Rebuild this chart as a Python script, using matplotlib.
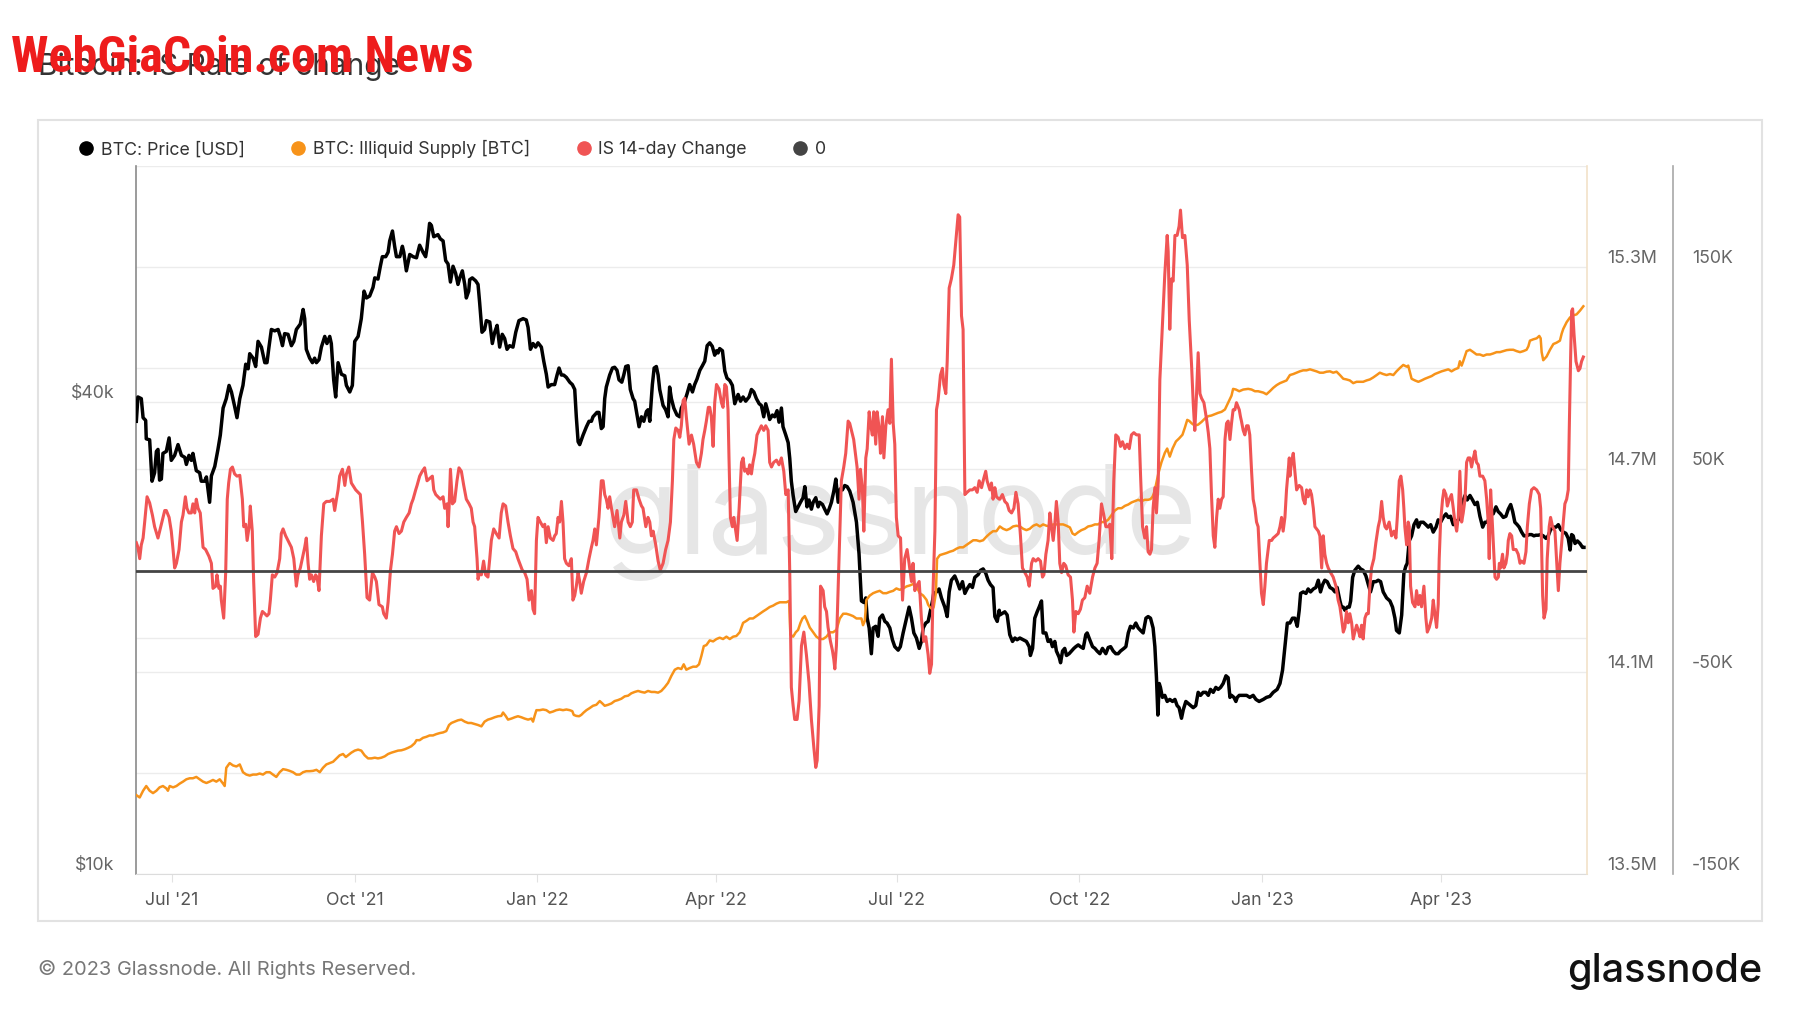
import numpy as np
import pandas as pd
import matplotlib
matplotlib.use("Agg")
import matplotlib.pyplot as plt
import matplotlib.dates as mdates
from matplotlib.lines import Line2D
from matplotlib.patches import Rectangle
from matplotlib.ticker import FixedLocator, FixedFormatter, NullLocator
from matplotlib.transforms import blended_transform_factory

plt.rcParams['font.family'] = ['Inter', 'DejaVu Sans']

# day offsets are counted from 2021-07-01
start = pd.Timestamp('2021-07-01')

# BTC price, thousands of USD
price_day = [
    -17.9, -17.1, -15.4, -14.5, -13.2, -12.9, -11.2, -10.0, -8.7, -7.8, -7.0, -6.2, -5.3, -4.5, -2.8, -1.4, -0.3,
    1.4, 3.1, 4.8, 6.5, 7.3, 8.6, 9.8, 10.6, 12.3, 14.0, 14.8, 16.5, 17.4, 19.0, 19.9, 21.6, 23.2, 24.4, 25.8,
    27.4, 28.8, 30.0, 31.6, 32.8, 34.2, 35.8, 37.2, 38.4, 39.2, 40.9, 42.2, 43.4, 45.1, 46.8, 47.9, 48.9, 50.1,
    51.8, 53.5, 54.6, 55.7, 56.8, 58.5, 60.2, 61.4, 62.7, 64.7, 66.1, 66.9, 67.7, 69.4, 70.8, 71.9, 72.8, 74.1,
    75.3, 77.0, 78.1, 79.5, 80.3, 81.5, 82.5, 83.7, 85.4, 87.1, 87.9, 89.6, 90.9, 92.1, 93.8, 95.4, 96.8, 98.0,
    99.6, 101.3, 102.2, 103.8, 105.0, 106.0, 107.7, 108.9, 109.7, 111.1, 112.2, 113.1, 114.8, 116.1, 116.8,
    118.1, 119.8, 121.5, 123.2,
    124.8, 126.5, 127.8, 128.5, 129.8, 130.7, 131.9, 134.0, 135.2, 136.6, 137.9, 139.1, 140.3, 141.6, 142.9,
    144.1, 145.0, 146.3, 147.5, 148.3, 149.5, 150.0, 151.3, 153.0, 154.2, 155.0, 156.2, 157.5, 158.4, 160.1,
    161.4, 162.6, 163.8, 165.1, 166.4, 167.6, 168.8, 170.1, 171.8, 173.2, 174.8, 176.9, 178.5, 179.4, 180.6,
    181.9, 183.2, 184.4, 186.1, 187.3, 188.6, 189.5, 191.1, 192.8, 194.0, 195.0, 196.2, 197.3, 198.7, 200.4,
    201.7, 202.9, 203.7, 204.6, 205.4, 207.1, 208.8, 210.1, 211.3, 212.1, 214.1, 215.1, 216.3, 217.2, 218.0,
    218.8, 220.5, 221.9, 223.0, 224.2, 225.2, 226.6, 227.6, 228.6, 229.8, 230.9, 232.3, 233.1, 234.3, 235.3,
    236.5, 237.7, 239.0, 239.8, 240.7, 242.0, 242.9, 244.0, 244.9, 245.7, 247.4, 248.7, 249.9, 250.7, 251.6,
    252.8, 254.4, 255.8, 256.6, 258.3, 259.5, 260.8, 262.2, 263.3, 264.5, 265.9, 267.2, 268.4, 269.6,
    270.9, 272.2, 273.4, 274.3, 275.1, 275.9, 277.3, 278.5, 279.6, 281.0, 282.3, 283.5, 285.2, 286.4, 287.7,
    289.0, 290.7, 291.9, 293.1, 294.4, 295.8, 296.9, 298.1, 299.1, 300.3, 301.1, 302.5, 303.6, 304.8, 305.8,
    307.0, 307.8, 309.2, 310.4, 311.2, 312.0, 312.9, 314.2, 315.4, 316.6, 317.9, 318.8, 319.9, 320.9, 322.1,
    323.0, 324.3, 325.5, 326.3, 327.7, 328.8, 330.0, 331.0, 332.2, 333.4, 334.4, 335.6, 336.7, 337.7, 338.9,
    340.1, 341.4, 343.1, 344.8, 346.1, 347.3, 348.5, 349.5, 350.2, 351.2, 352.3, 353.2, 354.5, 355.7, 356.5,
    357.9, 359.1, 360.2, 361.6, 362.9, 364.1, 365.8, 366.9, 368.3, 370.0, 371.3, 372.5, 373.7, 375.0, 376.4,
    377.5, 378.4, 379.7, 380.9, 382.1, 383.1, 383.7, 385.1, 386.4, 387.6, 389.3, 390.5, 391.5, 392.6, 394.3,
    395.5, 396.8, 398.2, 399.4, 400.5, 401.9, 403.2, 404.4, 406.1, 407.3, 408.6, 409.9, 411.1, 412.3, 413.6,
    414.5, 415.7, 416.7,
    417.0, 419.5, 420.7, 422.0, 423.4, 424.6, 425.7, 427.1, 428.8, 430.4, 431.8, 432.4, 433.5, 434.6, 435.8,
    436.8, 438.0, 438.8, 440.2, 441.3, 442.5, 443.5, 444.7, 445.5, 446.9, 447.6, 448.6, 449.7, 450.6, 451.9,
    453.1, 454.3, 455.3, 456.5, 457.6, 459.0, 460.3, 461.0, 462.3, 463.7, 464.9, 466.0, 467.4, 468.7, 470.4,
    471.6, 472.8, 474.1, 475.4, 476.6, 477.8, 479.5, 480.5, 481.7, 482.8, 484.2, 485.5, 486.7, 487.9, 489.2,
    490.6, 491.7, 492.9, 494.2, 495.1, 495.9, 496.6, 497.3, 497.9, 498.9, 500.1, 501.3, 502.6, 504.0, 505.2,
    506.3, 507.3, 508.5, 509.4, 510.7, 511.9, 513.1, 514.4, 515.7, 516.9, 518.1, 519.4, 520.8, 522.0, 523.1,
    524.5, 525.8, 527.0, 528.2, 529.5, 530.9, 532.0, 532.9, 533.7, 534.9, 535.9, 536.6, 537.6, 539.6, 541.3,
    542.9, 544.6, 546.0, 547.6, 549.7, 551.3, 553.0, 554.7, 556.7, 558.1, 559.4, 560.6, 561.8,
    563.1, 564.4, 565.6, 566.8, 567.8, 568.5, 569.8, 571.2, 572.3, 573.5, 574.9, 576.2, 577.4, 578.5, 579.6,
    580.7, 581.9, 583.3, 584.6, 585.8, 586.9, 588.3, 589.1, 590.0, 590.8, 592.0, 593.0, 593.7, 594.7, 595.8,
    597.5, 598.7, 600.0, 601.4, 602.6, 603.7, 605.1, 606.4, 607.6, 608.8, 610.1, 611.8, 613.5, 614.8, 616.0,
    616.8, 618.2, 619.4, 620.5, 621.5, 622.2, 623.2, 624.4, 625.6, 626.9, 627.8, 628.9, 630.3, 631.6, 632.8,
    634.0, 635.3, 636.7, 637.8, 639.0, 640.3, 641.7, 642.9, 644.0, 645.4, 646.7, 647.9, 649.1, 650.1, 651.3,
    652.4, 653.8, 655.1, 656.3, 657.5, 658.8, 660.2, 661.3, 662.5, 663.9, 664.7, 665.5, 666.9, 668.0, 669.2,
    670.6, 671.9, 673.1, 674.3, 675.3, 676.4, 677.6, 678.6, 679.8, 681.0, 682.3, 683.7, 684.8, 686.0, 687.0,
    688.2, 689.4, 690.7, 692.1, 693.2, 694.4, 695.8, 697.1, 698.3, 699.5, 700.8, 702.1, 703.3, 704.2, 705.0,
    705.8, 706.7, 707.9, 709.2, 710.5, 711.2,
]
price_k = [
    37.8, 40.6, 40.4, 38.2, 37.9, 35.9, 35.8, 31.7, 32.5, 34.6, 34.8, 31.8, 31.9, 34.4, 34.6, 36.0, 33.7,
    34.2, 35.3, 34.2, 34.0, 33.3, 34.2, 33.7, 34.4, 32.7, 32.5, 31.7, 31.7, 32.1, 29.8, 32.2, 33.1, 34.8, 36.3, 39.3,
    40.4, 42.0, 41.2, 39.5, 38.2, 40.4, 42.0, 44.7, 44.1, 46.1, 45.5, 44.4, 47.8, 47.0, 44.9, 44.9, 47.0, 49.5,
    49.3, 49.5, 48.5, 47.2, 48.9, 48.8, 47.2, 47.8, 49.5, 50.3, 52.5, 51.1, 46.7, 45.5, 44.9, 45.5, 44.9, 45.3,
    47.0, 48.5, 47.5, 48.5, 47.5, 42.7, 40.6, 44.9, 43.4, 43.2, 42.0, 41.2, 42.0, 47.8, 48.5, 51.1, 55.4, 54.3,
    54.6, 56.0, 57.6, 57.4, 59.6, 61.3, 61.3, 62.1, 64.2, 66.1, 63.2, 61.3, 61.3, 63.2, 62.1,
    58.8, 61.7, 61.3, 61.1,
    63.4, 62.1, 61.3, 62.9, 67.6, 67.2, 65.0, 65.4, 64.6, 64.2, 60.6, 60.0, 56.9, 59.6, 58.4,
    56.5, 57.6, 58.8, 56.5, 54.3, 55.4, 57.3, 57.6, 57.1, 56.5, 53.6, 49.1, 49.5, 50.8, 50.6,
    47.5, 49.1, 50.1, 47.0, 48.8, 48.2, 46.7, 47.2, 47.0, 49.1, 50.8, 51.1, 50.9, 49.8, 46.7,
    47.5, 47.0, 47.6, 47.0, 45.1, 43.4, 41.8, 42.1, 42.1, 43.3, 44.2, 43.3, 43.3, 43.0, 42.4,
    42.1, 41.5, 38.3, 35.6, 35.3, 36.3, 37.2, 37.8, 37.8, 38.3, 38.8, 38.8, 37.0, 37.2, 40.4,
    41.8, 43.3, 44.2, 44.3, 43.9, 42.7, 42.4, 43.3, 44.4, 44.5, 41.5, 40.4, 40.1, 38.5, 37.2,
    38.3, 37.8, 38.9, 39.1, 37.8, 42.1, 44.2, 44.4, 43.3, 41.5, 39.6, 39.1, 38.3, 41.8, 40.4,
    39.3, 38.5, 38.3, 39.3, 40.1, 41.0, 42.1, 41.2, 42.1, 42.8, 43.9, 44.5, 45.1, 47.2,
    47.6, 47.1, 45.9, 46.5, 46.2, 46.8, 46.5, 43.8, 42.9, 42.6, 42.0, 39.8, 40.9, 40.1, 40.6,
    40.1, 40.6, 41.5, 41.2, 40.4, 39.8, 39.6, 38.3, 39.8, 38.8, 38.0, 38.5, 38.3, 39.0, 37.7,
    39.3, 37.2, 36.3, 35.5, 33.9, 31.7, 30.4, 29.0, 29.4, 29.8, 30.2, 31.2, 29.4, 30.0, 29.2,
    29.8, 30.2, 29.4, 29.8, 29.6, 29.2, 28.8, 29.2, 29.8, 30.8, 31.9, 29.8, 31.0, 30.9, 31.3,
    31.2, 30.8, 29.8, 28.1, 25.6, 22.3, 22.2, 22.5, 21.2, 20.6, 19.1, 20.6, 20.7, 20.1, 21.2,
    21.4, 21.0, 20.9, 20.6, 19.9, 19.5, 19.3, 19.5, 20.3, 21.2, 21.9, 21.2, 20.3, 20.0, 19.4,
    19.8, 20.6, 20.9, 21.0, 21.7, 22.3, 22.8, 22.9, 23.1, 22.5, 21.9, 21.3, 22.9, 23.7, 24.0,
    23.6, 23.1, 23.6, 22.8, 23.1, 23.4, 23.2, 23.9, 24.1, 24.4, 24.5, 24.2, 23.7, 23.4, 23.2,
    21.3, 21.0, 21.7,
    21.4, 21.6, 21.4, 20.2, 19.8, 20.0, 19.9, 20.0, 19.9, 19.8, 19.5, 19.0, 19.4, 21.2, 21.6,
    21.9, 22.3, 20.3, 20.3, 19.8, 19.9, 19.5, 19.8, 19.25, 18.9, 18.6, 19.25, 19.4, 19.0, 19.1,
    19.25, 19.4, 19.5, 19.6, 19.5, 19.4, 20.2, 20.3, 19.9, 19.5, 19.4, 19.25, 19.1, 19.4, 19.1,
    19.45, 19.5, 19.25, 19.1, 19.1, 19.25, 19.4, 19.5, 20.3, 20.7, 20.6, 20.9, 20.6, 20.45, 20.3,
    21.2, 21.3, 21.2, 20.6, 19.5, 17.8, 15.95, 17.5, 17.3, 16.8, 16.9, 16.6, 16.7, 16.6, 16.7,
    16.4, 16.3, 15.8, 16.2, 16.6, 16.5, 16.4, 16.3, 16.4, 17.05, 16.9, 17.05, 17.05, 16.9, 17.2,
    17.05, 17.3, 17.2, 17.3, 17.5, 17.9, 17.8, 16.8, 16.9, 16.8, 16.6, 16.8, 16.9, 16.9, 16.9,
    16.8, 16.9, 16.7, 16.6, 16.7, 16.8, 16.85, 17.05, 17.2, 17.5, 18.2, 19.5, 20.9,
    20.9, 21.2, 21.2, 20.7, 21.7, 22.8, 22.9, 22.8, 23.1, 22.9, 23.1, 23.2, 23.7, 22.9, 23.4,
    23.7, 23.6, 23.2, 23.1, 22.9, 23.2, 22.3, 21.9, 21.9, 21.7, 21.9, 21.9, 22.3, 23.9, 24.4,
    24.7, 24.5, 24.4, 24.0, 23.4, 22.9, 23.6, 23.6, 23.7, 23.6, 22.9, 22.5, 22.3, 21.9, 21.2,
    20.45, 20.3, 21.4, 24.2, 24.7, 24.9, 26.6, 27.0, 27.9, 28.3, 27.7, 28.1, 28.1, 27.9, 27.7,
    27.9, 27.3, 27.7, 28.3, 28.1, 28.5, 28.8, 28.5, 28.6, 27.9, 28.1, 28.3, 28.6, 29.8, 30.4,
    30.0, 30.4, 30.0, 29.6, 29.8, 28.6, 27.7, 28.1, 28.1, 28.6, 28.8, 28.8, 29.4, 29.0, 28.8,
    28.5, 28.6, 29.2, 29.6, 29.0, 28.1, 27.9, 27.7, 27.3, 27.0, 27.0, 27.1, 27.1, 27.0, 27.05,
    27.05, 27.1, 27.0, 26.8, 27.0, 27.5, 27.7, 27.7, 27.9, 27.5, 27.3, 27.2, 26.8, 25.9, 27.1,
    27.0, 26.4, 26.6, 26.4, 26.1, 26.1,
]

# BTC illiquid supply, millions of BTC
supply_day = [
    -17.9, -16.2, -14.5, -12.9, -11.2, -9.5, -7.8, -6.2, -4.5, -2.8, -2.0, -1.1, 0.6, 2.3, 3.9, 5.6, 7.3, 9.0,
    10.6, 12.3, 14.0, 15.7, 17.4, 19.0, 20.7, 22.4, 24.1, 25.8, 26.6, 27.4, 29.1, 30.8, 32.5, 34.2, 35.8, 37.5,
    39.2, 40.9, 42.6, 44.2, 45.9, 47.6, 49.3, 50.9, 52.6, 54.3, 56.0, 57.7, 59.3, 61.0, 62.7, 64.4, 66.1, 67.7,
    69.4, 71.1, 72.8, 74.5, 76.1, 77.8, 79.5, 81.2, 82.9, 84.5, 86.2, 87.6, 88.7, 90.4, 92.1, 93.8, 95.4, 97.1,
    98.8, 100.5, 102.2, 103.8, 105.5, 107.2, 108.9, 110.6, 112.2, 113.9, 115.6, 117.3, 118.9, 120.6, 122.3, 123.2,
    124.8, 126.5, 128.2, 129.8, 131.5, 133.2, 134.9, 136.6, 138.2, 139.6, 140.8, 142.4, 144.1, 145.8, 147.5,
    149.2, 150.8, 152.5, 154.2, 155.9, 157.5, 159.2, 160.9, 162.6, 164.3, 165.9, 166.8, 168.1, 169.3, 171.0,
    172.7, 174.3, 176.0, 177.7, 179.4, 181.1, 181.9, 182.7, 183.6, 185.3, 186.9, 188.6, 190.3, 192.0, 193.6,
    195.3, 197.0, 198.7, 200.4, 201.7, 202.4, 203.7, 205.1, 206.2, 207.4, 208.8, 210.4, 212.1, 213.8, 215.5,
    216.8, 218.0, 219.7, 221.4, 223.0, 224.7, 226.4, 228.1, 229.8, 231.4, 233.1, 234.8, 236.5, 238.1, 239.8,
    241.5, 243.2, 244.9, 246.5, 248.2, 249.9, 251.6, 253.3, 254.9, 256.6, 257.8, 259.1, 260.8, 262.5, 264.2,
    265.5, 266.7, 267.9, 269.2,
    270.9, 272.6, 274.3, 275.9, 277.6, 279.3, 281.0, 282.7, 284.3, 286.0, 287.7, 289.4, 291.0, 292.7, 294.4,
    296.1, 297.8, 299.4, 301.1, 302.8, 304.5, 306.2, 307.8, 309.5, 310.9, 311.5, 312.9, 314.2, 315.4, 316.6,
    317.6, 318.8, 319.9, 321.3, 323.0, 324.6, 326.3, 328.0, 329.7, 331.4, 333.0, 334.7, 336.4, 338.1, 339.7,
    341.4, 343.1, 344.8, 346.1, 347.3, 348.1, 349.0, 349.8, 351.5, 353.2, 354.9, 356.5, 358.2, 359.9, 361.6,
    363.3, 364.9, 366.6, 368.3, 370.0, 371.7, 373.3, 375.0, 376.7, 378.4, 380.1, 380.9, 381.7, 383.1, 383.7,
    384.8, 385.4, 386.8, 388.5, 390.1, 391.8, 393.5, 395.2, 396.8, 398.5, 400.2, 401.9, 403.6, 405.2, 406.9,
    408.6, 410.3, 412.0, 413.6, 415.3,
    417.0, 418.7, 420.4, 422.0, 423.7, 425.4, 427.1, 428.8, 430.4, 432.1, 433.8, 435.5, 437.2, 438.8, 440.5,
    442.2, 443.9, 445.5, 447.2, 448.9, 450.6, 452.3, 453.6, 454.8, 456.5, 458.1, 459.8, 461.5, 463.2, 464.9,
    466.5, 468.2, 469.9, 471.6, 473.3, 474.9, 476.6, 478.3, 480.0, 481.7, 483.3, 485.0, 486.7, 488.4, 490.0,
    491.7, 492.9, 493.9, 494.6, 495.6, 496.8, 498.4, 500.1, 501.3, 502.6, 504.0, 505.7, 507.3, 509.0, 510.2,
    511.4, 512.4, 513.6, 515.2, 516.9, 518.6, 520.3, 522.0, 523.6, 525.3, 527.0, 528.7, 530.4, 532.0, 533.7,
    534.5, 535.9, 537.6, 539.6, 542.1, 543.8, 545.5, 547.1, 549.7, 551.3, 553.0, 554.7, 556.4, 558.1, 559.7,
    561.4,
    563.1, 564.8, 566.5, 568.1, 569.8, 571.5, 573.2, 574.9, 576.5, 578.2, 579.9, 581.6, 583.3, 584.9, 586.6,
    588.3, 590.0, 591.6, 593.3, 595.0, 596.7, 598.4, 600.0, 601.7, 603.4, 605.1, 606.8, 608.4, 610.1, 611.8,
    613.5, 615.2, 616.8, 618.5, 620.2, 621.9, 622.7, 623.6, 624.4, 626.1, 627.8, 629.4, 631.1, 632.8, 634.5,
    636.1, 637.8, 639.5, 641.2, 642.9, 644.5, 646.2, 647.9, 648.7, 649.6, 650.4, 652.1, 653.8, 655.5, 657.1,
    658.8, 660.5, 662.2, 663.9, 665.5, 667.2, 668.9, 670.6, 672.3, 673.9, 675.6, 677.3, 679.0, 680.7, 682.3,
    683.2, 684.0, 685.7, 687.4, 688.7, 689.4, 689.9, 690.7, 692.4, 694.1, 695.8, 697.4, 699.1, 700.0, 700.8,
    702.5, 704.2, 705.8, 707.5, 709.2, 710.9,
]
supply_m = [
    13.734, 13.727, 13.747, 13.761, 13.747, 13.740, 13.747, 13.757, 13.761, 13.754, 13.747, 13.761, 13.757,
    13.761, 13.768, 13.774, 13.781, 13.784, 13.784, 13.788, 13.781, 13.774, 13.770, 13.774, 13.779, 13.774,
    13.781, 13.768, 13.761, 13.815, 13.829, 13.822, 13.819, 13.825, 13.802, 13.795, 13.792, 13.795, 13.795,
    13.798, 13.795, 13.802, 13.802, 13.795, 13.788, 13.802, 13.811, 13.809, 13.806, 13.802, 13.795, 13.795,
    13.802, 13.805, 13.805, 13.806, 13.809, 13.802, 13.815, 13.825, 13.829, 13.833, 13.843, 13.852, 13.856,
    13.847, 13.852, 13.860, 13.866, 13.869, 13.866, 13.852, 13.843, 13.843, 13.845, 13.843, 13.845, 13.849,
    13.856, 13.860, 13.863, 13.866, 13.867, 13.870, 13.874, 13.879, 13.888, 13.897,
    13.897, 13.904, 13.907, 13.911, 13.911, 13.915, 13.918, 13.920, 13.924, 13.942, 13.948, 13.952, 13.956,
    13.958, 13.952, 13.948, 13.948, 13.945, 13.942, 13.938, 13.952, 13.958, 13.961, 13.965, 13.968, 13.969,
    13.979, 13.969, 13.958, 13.961, 13.965, 13.968, 13.965, 13.961, 13.958, 13.961, 13.952, 13.969, 13.986,
    13.986, 13.988, 13.986, 13.979, 13.982, 13.986, 13.988, 13.986, 13.988, 13.986, 13.983, 13.972, 13.969,
    13.968, 13.972, 13.979, 13.986, 13.992, 13.999, 14.002, 14.013, 14.006, 13.999, 14.002, 14.006, 14.013,
    14.016, 14.020, 14.027, 14.029, 14.036, 14.040, 14.043, 14.040, 14.038, 14.043, 14.040, 14.040, 14.038,
    14.043, 14.054, 14.067, 14.088, 14.106, 14.111, 14.108, 14.122, 14.106, 14.111, 14.115, 14.115, 14.122,
    14.147, 14.176, 14.179,
    14.193, 14.190, 14.197, 14.201, 14.197, 14.204, 14.197, 14.204, 14.206, 14.217, 14.245, 14.251, 14.258,
    14.258, 14.265, 14.272, 14.279, 14.285, 14.292, 14.296, 14.302, 14.306, 14.306, 14.306, 14.310, 14.210,
    14.204, 14.217, 14.224, 14.245, 14.258, 14.265, 14.251, 14.231, 14.217, 14.204, 14.197, 14.197, 14.204,
    14.217, 14.217, 14.224, 14.258, 14.272, 14.272, 14.269, 14.265, 14.258, 14.258, 14.258, 14.238, 14.251,
    14.313, 14.326, 14.333, 14.337, 14.340, 14.333, 14.333, 14.337, 14.340, 14.347, 14.343, 14.347, 14.353,
    14.356, 14.360, 14.353, 14.333, 14.326, 14.313, 14.299, 14.292, 14.285, 14.292, 14.333, 14.435, 14.446,
    14.449, 14.452, 14.456, 14.459, 14.465, 14.469, 14.469, 14.476, 14.483, 14.490, 14.490, 14.487, 14.490,
    14.501, 14.510, 14.517, 14.517,
    14.531, 14.524, 14.520, 14.524, 14.531, 14.533, 14.531, 14.524, 14.520, 14.524, 14.533, 14.537, 14.531,
    14.537, 14.533, 14.531, 14.537, 14.537, 14.537, 14.537, 14.533, 14.528, 14.510, 14.506, 14.514, 14.520,
    14.524, 14.531, 14.533, 14.537, 14.537, 14.544, 14.544, 14.551, 14.565, 14.578, 14.585, 14.585, 14.592,
    14.596, 14.602, 14.606, 14.610, 14.606, 14.610, 14.610, 14.612, 14.619, 14.629, 14.653, 14.687, 14.721,
    14.749, 14.762, 14.738, 14.762, 14.783, 14.792, 14.803, 14.824, 14.847, 14.844, 14.837, 14.830, 14.833,
    14.841, 14.851, 14.858, 14.860, 14.864, 14.868, 14.871, 14.878, 14.898, 14.919, 14.939, 14.937, 14.932,
    14.937, 14.939, 14.937, 14.932, 14.932, 14.928, 14.923, 14.932, 14.942, 14.950, 14.956, 14.960, 14.964,
    14.980, 14.983, 14.987, 14.991, 14.994, 14.994, 14.997, 14.994, 14.991, 14.987, 14.987, 14.990, 14.991,
    14.987, 14.990, 14.980, 14.969, 14.967, 14.964, 14.956, 14.960, 14.960, 14.960, 14.964, 14.967, 14.973,
    14.980, 14.987, 14.983, 14.980, 14.983, 14.980, 14.991, 15.001, 15.010, 15.005, 15.008, 14.987, 14.969,
    14.964, 14.960, 14.964, 14.969, 14.973, 14.977, 14.983, 14.987, 14.991, 14.994, 14.997, 14.991, 14.997,
    15.001, 15.021, 15.008, 15.021, 15.051, 15.055, 15.048, 15.041, 15.041, 15.037, 15.041, 15.041, 15.044,
    15.048, 15.048, 15.051, 15.054, 15.055, 15.055, 15.051, 15.048, 15.051, 15.055, 15.065, 15.082, 15.086,
    15.089, 15.096, 15.089, 15.048, 15.024, 15.035, 15.055, 15.072, 15.076, 15.082, 15.103, 15.117, 15.137,
    15.151, 15.157, 15.160, 15.171, 15.184,
]

# IS 14-day change, thousands of BTC
change_day = [
    -17.9, -17.1, -16.2, -15.4, -14.5, -13.7, -12.5, -11.2, -9.8, -8.7, -7.0, -5.3, -3.6, -2.8, -1.4, -0.3,
    0.6, 1.4, 2.3, 3.6, 4.8, 5.6, 6.8, 7.6, 8.6, 9.8, 10.6, 11.5, 12.3, 13.2, 14.3, 15.7, 17.0, 18.7, 19.9,
    20.7, 22.1, 22.7, 23.7, 24.4, 24.9, 26.1, 27.1, 27.9, 28.6, 29.5, 30.5, 31.6, 32.8, 34.2, 35.5, 36.2, 37.2,
    37.9, 38.9, 39.5, 40.5, 41.2, 42.2, 43.4, 44.6, 45.6, 46.8, 47.9, 48.9, 49.6, 50.6, 51.8, 53.0, 54.3, 55.1,
    56.0, 57.3, 59.0, 60.2, 61.4, 62.7, 63.5, 64.7, 65.7, 66.9, 67.7, 68.6, 69.4, 70.3, 71.4, 72.4, 73.1, 74.1,
    75.3, 76.5, 77.8, 79.5, 81.2, 82.0, 82.9, 83.7, 84.5, 85.9, 87.1, 87.9, 89.1, 90.4, 92.6, 93.8, 94.9, 96.0,
    97.1, 98.3, 99.6, 101.0, 102.2, 103.0, 104.3, 106.0, 106.7, 108.0, 108.9, 110.1, 111.1, 112.2, 113.1,
    114.4, 115.6, 116.8, 118.1, 119.5, 120.6, 121.5, 122.8, 123.5, 124.5,
    124.8, 126.1, 127.3, 128.5, 129.8, 131.2, 131.9, 132.9, 134.0, 135.2, 136.6, 137.4, 138.6, 139.1, 139.6,
    140.3, 141.3, 142.4, 143.6, 144.6, 145.8, 147.0, 148.3, 149.7, 150.8, 151.7, 152.5, 153.7, 154.2, 155.0,
    155.9, 157.0, 158.0, 159.2, 160.1, 160.9, 162.1, 163.4, 164.8, 165.9, 166.8, 168.1, 169.3, 170.5, 171.8,
    173.2, 174.3, 175.2, 176.5, 177.7, 178.9, 179.9, 181.1, 181.9, 182.7, 183.6, 184.4, 185.6, 186.9, 187.8,
    188.6, 189.5, 190.6, 192.0, 192.8, 193.6, 194.5, 195.3, 196.2, 197.0, 197.8, 198.7, 200.0, 201.2, 202.0,
    202.9, 203.7, 204.6, 205.4, 206.2, 207.4, 208.8, 210.1, 211.3, 212.1, 213.0, 213.8, 215.1, 216.3, 217.2,
    218.0, 218.8, 219.7, 220.5, 221.4, 222.2, 223.0, 224.2, 225.6, 226.4, 227.6, 228.6, 229.8, 230.9, 231.9,
    232.6, 234.0, 235.3, 236.5, 237.3, 238.7, 239.8, 240.7, 241.5, 242.4, 243.7, 244.9, 246.0, 247.4, 248.7,
    249.9, 251.1, 252.1, 252.8, 253.8, 255.0, 255.8, 256.6, 257.5, 258.3, 259.1, 260.5, 261.7, 262.8, 264.2,
    265.5, 266.7, 267.5, 268.4, 269.2, 270.2,
    270.9, 271.7, 272.6, 273.4, 274.3, 275.6, 276.8, 277.6, 278.5, 279.3, 280.1, 280.6, 281.3, 282.3, 283.0,
    284.0, 284.7, 285.7, 286.9, 287.7, 288.5, 289.4, 290.2, 291.0, 291.9, 292.7, 293.6, 294.7, 295.8, 296.9,
    298.1, 299.1, 300.3, 301.1, 302.0, 303.1, 304.5, 305.8, 307.0, 308.2, 309.2, 310.4, 311.2, 312.0, 312.9,
    313.7, 314.9, 315.9, 317.1, 318.3, 319.6, 320.9, 322.1, 323.3, 324.3, 325.0, 326.0, 326.7, 328.0, 328.8,
    329.7, 330.5, 331.7, 332.7, 333.4, 333.9, 334.7, 335.6, 336.4, 337.2, 338.4, 339.4, 340.6, 341.4, 342.3,
    343.4, 344.5, 345.1, 346.1, 346.8, 347.8, 348.5, 349.5, 350.2, 351.2, 351.8, 352.8, 353.5, 354.5, 355.2,
    356.2, 356.9, 357.9, 358.6, 359.6, 360.7, 361.6, 362.4, 363.3, 364.1, 364.9, 365.8, 367.0, 368.0, 369.1,
    370.3, 371.3, 372.5, 373.3, 374.2, 375.0, 376.4, 377.5, 378.7, 379.7, 380.9, 381.7, 382.6, 383.4, 384.3,
    385.1, 385.9, 387.1, 388.1, 388.8, 389.8, 390.5, 391.5, 392.6, 393.8, 394.8, 396.0, 396.8, 397.7, 398.5,
    399.4, 400.5, 401.9, 403.2, 404.4, 405.6, 406.6, 407.8, 408.9, 409.9, 410.6, 412.0, 412.8, 413.6, 414.5,
    415.3, 416.7,
    417.0, 418.3, 419.5, 420.7, 421.7, 422.9, 424.1, 425.1, 426.2, 427.4, 428.4, 429.6, 430.8, 431.8, 433.0,
    433.8, 435.1, 436.3, 437.5, 438.5, 439.2, 440.2, 441.3, 442.2, 443.0, 443.9, 444.7, 445.5, 446.4, 447.2,
    448.1, 449.2, 450.2, 451.4, 452.6, 453.6, 454.3, 455.3, 456.5, 457.6, 458.6, 459.8, 461.0, 462.3, 463.7,
    464.9, 466.0, 467.0, 468.2, 469.4, 470.4, 471.6, 472.4, 473.4, 474.4, 475.4, 476.6, 477.8, 478.8, 480.0,
    481.1, 482.2, 483.3, 484.5, 485.8, 487.2, 487.9, 488.9, 490.0, 490.9, 491.7, 492.6, 493.4, 494.2, 495.1,
    495.9, 496.8, 497.6, 498.9, 500.1, 501.3, 501.8, 502.6, 503.5, 504.3, 505.2, 506.3, 507.3, 508.0, 509.0,
    510.2, 511.4, 512.4, 513.6, 514.4, 515.2, 516.1, 516.9, 517.8, 518.6, 519.8, 521.1, 522.0, 522.8, 523.6,
    524.5, 525.3, 526.2, 527.0, 527.8, 528.7, 529.5, 530.4, 531.2, 532.0, 532.9, 533.7, 534.5, 535.4, 536.2,
    537.6, 538.2, 538.7, 539.6, 540.4, 541.3, 542.1, 542.9, 543.8, 544.6, 545.5, 546.3, 547.1, 548.0, 548.8,
    549.7, 550.5, 551.3, 552.7, 553.9, 554.7, 556.0, 557.2, 558.1, 558.9, 559.7, 560.6, 561.4, 562.8,
    563.1, 563.9, 564.8, 565.6, 566.5, 567.8, 569.0, 569.8, 570.7, 571.5, 572.3, 573.2, 574.0, 574.9, 575.7,
    577.4, 578.2, 579.1, 579.9, 580.7, 581.6, 582.4, 583.6, 584.9, 586.3, 587.4, 588.3, 589.1, 590.0, 590.8,
    591.6, 592.5, 593.3, 594.2, 595.0, 595.8, 596.7, 597.5, 598.4, 599.2, 600.0, 600.9, 601.7, 602.6, 603.4,
    604.2, 605.4, 606.4, 607.6, 608.4, 609.3, 610.1, 611.0, 611.8, 613.1, 614.3, 615.5, 616.5, 617.2, 618.2,
    619.0, 619.9, 620.5, 621.0, 621.9, 622.7, 623.2, 623.9, 624.9, 626.1, 626.9, 627.8, 628.6, 629.4, 630.6,
    631.6, 632.3, 633.3, 634.5, 635.3, 636.1, 637.0, 637.8, 638.3, 639.0, 640.0, 640.7, 641.7, 642.4, 643.4,
    644.5, 645.4, 646.2, 647.1, 647.9, 648.7, 649.6, 650.4, 651.3, 652.1, 652.9, 653.8, 654.6, 655.5, 656.3,
    657.1, 658.0, 658.8, 660.2, 661.3, 662.2, 663.0, 663.5, 664.2, 664.7, 665.5, 666.4, 667.2, 668.1, 668.6,
    669.2, 670.2, 670.9, 671.9, 672.6, 673.1, 673.9, 674.8, 675.6, 677.0, 678.1, 679.0, 679.8, 681.0, 682.0,
    682.7, 683.7, 684.8, 686.0, 687.4, 688.7, 689.4, 689.9, 690.4, 691.1, 692.1, 692.7, 693.7, 694.4, 695.4,
    696.6, 697.4, 698.3, 699.1, 700.0, 700.8, 701.6, 702.5, 703.3, 703.8, 704.5, 705.0, 705.5, 706.2, 707.2,
    708.4, 709.2, 710.0, 710.9,
]
change_k = [
    13.8, 11.5, 5.9, 12.7, 16.1, 24.0, 36.5, 33.5, 27.4, 21.7, 16.1, 22.9, 29.7, 29.7, 26.3, 19.5,
    10.4, 1.3, 3.6, 10.4, 24.0, 27.4, 36.5, 30.8, 28.5, 28.5, 33.0, 28.5, 35.3, 30.8, 28.5, 11.5, 10.4, 7.0, 3.6,
    -8.8, -7.7, -2.1, -8.8, -7.7, -14.6, -23.5, -1.0, 35.3, 43.3, 50.1, 51.2, 47.8, 46.7, 47.1, 35.3, 21.7, 22.9,
    14.9, 21.7, 31.9, 19.5, -5.4, -32.6, -31.5, -23.5, -20.2, -21.3, -22.4, -21.3, -14.6, -2.1, -3.2, -1.0, 5.9, 18.3,
    20.6, 17.2, 13.8, 11.5, 5.9, -7.7, -2.1, 1.3, 5.9, 11.5, 16.1, 3.6, -4.3, -2.1, -5.4, -2.1, -3.2, -9.9,
    17.2, 33.0, 34.2, 34.2, 35.3, 29.7, 35.3, 39.9, 46.7, 50.1, 42.1, 47.8, 51.2, 43.3, 39.9, 38.7, 37.6, 24.0,
    8.1, -13.4, -14.6, -1.0, -3.2, -5.4, -16.8, -17.9, -21.3, -23.5, -15.6, 0.2, 8.1, 19.5, 21.7,
    18.3, 19.5, 24.0, 26.3, 28.5, 33.0, 35.3, 39.9, 42.1, 45.7,
    46.7, 49.1, 50.8, 44.4, 45.5, 46.7, 39.9, 37.6, 36.5, 35.3, 36.5, 30.8, 33.0, 21.7, 30.8,
    50.1, 33.0, 34.2, 44.4, 50.8, 49.1, 42.1, 35.3, 33.0, 30.8, 24.0, 21.7, 5.9, -4.3, -1.0,
    -2.1, 4.7, -2.1, -3.2, 5.9, 14.9, 20.6, 18.3, 16.1, 28.5, 33.0, 32.0, 24.0, 17.2, 10.9,
    9.3, 5.9, 3.6, 0.2, -1.0, -4.3, -14.6, -9.9, -19.1, -21.3, 14.9, 26.3, 24.0, 21.7, 22.9,
    13.8, 21.7, 16.1, 14.9, 17.2, 18.3, 26.3, 24.0, 34.2, 24.0, 5.9, 3.6, 2.4, 5.9, -14.6,
    -12.3, -7.7, -1.0, -5.4, -11.2, -5.4, -1.0, 5.9, 11.5, 14.9, 20.6, 12.7, 26.3, 44.4, 44.4,
    37.6, 35.3, 30.8, 36.5, 30.8, 26.3, 21.7, 29.7, 16.1, 24.0, 27.4, 34.2, 24.0, 21.7, 24.0,
    39.9, 39.9, 35.3, 32.0, 30.8, 21.7, 26.3, 24.0, 17.2, 19.5, 12.7, 4.7, 0.2, 3.6, 10.4,
    14.9, 24.0, 44.4, 64.8, 70.5, 69.3, 65.9, 71.6, 84.1, 85.2, 76.1, 62.5, 67.0, 62.5, 53.5,
    51.2, 58.0, 64.8, 69.3, 73.9, 80.7,
    80.7, 76.1, 61.4, 83.0, 92.0, 89.8, 83.0, 80.7, 92.0, 90.9, 79.5, 55.7, 26.3, 21.7, 26.3,
    19.5, 14.9, 30.8, 53.5, 55.7, 49.1, 50.1, 47.8, 52.3, 47.8, 53.5, 58.0, 67.0, 69.3, 71.6,
    69.3, 71.6, 69.3, 53.5, 51.2, 53.5, 54.6, 52.3, 55.7, 49.1, 37.6, 39.9, -1.0, -57.7, -66.8,
    -73.6, -73.6, -64.4, -37.2, -30.4, -41.7, -55.4, -73.6, -87.1, -97.3, -93.9, -66.8, -7.7, -9.9, -17.9,
    -20.2, -28.1, -35.0, -39.5, -44.0, -48.6, -37.2, -7.7, 17.2, 44.4, 51.2, 58.0, 73.9, 72.8, 69.3,
    64.8, 55.7, 51.2, 35.3, 50.1, 39.9, 19.5, 55.7, 60.2, 78.5, 72.8, 67.0, 78.5, 62.5, 78.5,
    70.5, 58.0, 76.1, 55.7, 71.6, 79.5, 72.8, 104.5, 72.8, 62.5, 26.3, 17.2, 16.1, -14.6, 5.9,
    10.4, 3.6, -5.4, 3.6, -9.9, -7.7, -5.4, -23.5, -35.0, -32.7, -41.7, -50.8, -46.3, -8.8, 19.5,
    79.5, 84.1, 96.6, 100.0, 92.0, 87.5, 103.4, 139.7, 144.2, 151.0, 162.3, 175.9, 174.8, 126.0, 119.2,
    37.6, 38.7, 39.9, 39.9, 41.0, 38.7, 44.4, 41.0, 45.5, 49.1, 44.4, 39.9, 43.3, 35.3, 41.0,
    36.5, 35.3,
    35.3, 37.6, 34.2, 33.0, 29.7, 28.5, 30.8, 38.7, 33.0, 17.2, 1.3, -1.0, -3.2, -7.7, 3.6,
    5.9, 4.7, 5.9, 4.7, -3.2, -2.1, 8.1, 14.9, 28.5, 21.7, 14.9, 22.9, 34.2, 24.0, 3.6,
    -1.0, 3.6, 2.4, -2.1, -3.2, -14.6, -30.4, -20.2, -21.3, -19.1, -14.6, -13.4, -7.7, -11.2, -3.2,
    1.3, 3.6, 14.9, 33.0, 27.4, 21.7, 21.7, 22.9, 5.9, 44.4, 67.1, 65.9, 61.4, 63.7, 60.3,
    62.5, 60.3, 67.1, 68.2, 67.1, 67.1, 46.7, 21.7, 16.1, 21.7, 9.3, 8.1, 10.4, 30.8, 41.0,
    28.5, 44.4, 94.3, 121.5, 146.5, 165.7, 157.8, 119.3, 144.2, 143.1, 165.7, 165.7, 170.3, 178.2, 164.6,
    165.7, 151.0, 123.8, 101.1, 83.0, 69.3, 87.5, 107.7, 87.5, 85.2, 83.0, 75.0, 68.2, 60.3, 37.6,
    17.2, 11.5, 26.3, 35.3, 30.8, 35.3, 36.5, 64.8, 72.8, 73.9, 64.8, 72.8, 79.5, 79.5, 83.0,
    79.5, 76.1, 73.9, 69.3, 67.1, 71.6, 71.6, 67.1, 49.1, 35.3, 30.8, 24.0, 21.7, 3.6, -11.2,
    -16.8, -7.7, 3.6, 14.9, 14.9, 16.1, 17.2, 18.3, 21.7, 26.3, 19.5, 26.3, 39.9, 55.7,
    46.7, 53.5, 58.0, 49.1, 39.9, 42.1, 41.0, 35.3, 33.0, 39.9, 36.5, 39.9, 37.6, 30.8, 21.7,
    19.5, 17.2, 1.3, 17.2, 8.1, 3.6, 1.3, -1.0, -3.2, -7.7, -14.6, -17.9, -23.5, -30.4, -28.1,
    -20.2, -25.8, -21.3, -25.8, -33.8, -30.4, -27.0, -29.3, -32.7, -27.0, -33.8, -23.5, -21.3, -21.3, -7.7,
    1.3, 5.9, 13.8, 21.7, 25.1, 34.2, 26.3, 21.7, 20.6, 24.0, 17.2, 19.5, 16.1, 26.3, 44.4,
    46.7, 39.9, 30.8, 21.7, 12.7, 24.0, 21.7, -7.7, -15.8, -17.9, -9.9, -16.8, -12.3, -17.9, -7.7,
    -23.5, -30.4, -28.1, -23.5, -14.6, -21.3, -28.1, -16.8, 5.9, 24.0, 35.3, 39.9, 37.6, 31.9, 35.3,
    37.6, 30.8, 24.0, 19.5, 26.3, 49.1, 24.0, 28.5, 35.3, 53.5, 55.7, 55.7, 51.2, 55.7, 59.1,
    53.5, 52.3, 46.7, 46.7, 44.4, 35.3, 24.0, 5.9, 39.9, 30.8, 14.9, -3.2, -4.3, -3.2, 3.6,
    1.3, 8.1, 1.3, 3.6, 8.1, 14.9, 18.3, 17.2, 10.4, 10.4, 8.1, 3.6, 4.7, 3.6, 9.3,
    21.7, 33.0, 39.9, 41.0, 39.9, 37.6, 30.8, 10.4, -12.3, -23.5, -19.1, 5.9, 21.7, 26.3, 21.7,
    19.5, 5.9, -9.9, 3.6, 13.8, 24.0, 33.0, 35.3, 39.9, 69.3, 105.6, 128.3, 129.4, 117.0, 103.4,
    98.8, 99.9, 103.4, 105.6,
]

legend_labels = ['BTC: Price [USD]', 'BTC: Illiquid Supply [BTC]', 'IS 14-day Change', '0']
legend_colors = ['#000000', '#f7931a', '#f05454', '#444444']

price_ticks = [10000, 20000, 40000]
price_tick_labels = ['$10k', '', '$40k']
supply_ticks = [13.5, 14.1, 14.7, 15.3]
supply_tick_labels = ['13.5M', '14.1M', '14.7M', '15.3M']
change_ticks = [-150, -50, 50, 150]
change_tick_labels = ['-150K', '-50K', '50K', '150K']
change_grid = [-100, -50, 50, 100, 150, 200]


def to_num(days):
    return mdates.date2num(start) + np.asarray(days, dtype=float)


fig = plt.figure(figsize=(18, 10.13), dpi=100)
fig.patch.set_facecolor('white')

ax_p = fig.add_axes([0.0753, 0.1372, 0.8061, 0.6989])
ax_s = ax_p.twinx()
ax_i = ax_p.twinx()
for a, z in ((ax_p, 1), (ax_s, 2), (ax_i, 3)):
    a.set_zorder(z)
    a.patch.set_visible(False)
    for sp in a.spines.values():
        sp.set_visible(False)

TICK_FS = 12.8

# watermark
ax_p.text(0.5276, 0.497, 'glassnode', transform=ax_p.transAxes, ha='center', va='center',
          fontsize=88, color='#e6e6e6', zorder=0)

# price
ax_p.plot(to_num(price_day), np.array(price_k) * 1000, color='#000000', lw=2.5, zorder=3,
          solid_joinstyle='round')
ax_p.set_yscale('log')
ax_p.set_ylim(10000, 80000)
ax_p.yaxis.set_major_locator(FixedLocator(price_ticks))
ax_p.yaxis.set_major_formatter(FixedFormatter(price_tick_labels))
ax_p.yaxis.set_minor_locator(NullLocator())
ax_p.grid(axis='y', color='#ececec', lw=1.0)
ax_p.set_axisbelow(True)

# horizontal grid of the change axis, kept under all lines
gtrans = blended_transform_factory(ax_p.transAxes, ax_i.transData)
for v in change_grid:
    ax_p.plot([0, 1], [v, v], transform=gtrans, color='#ececec', lw=1.0, zorder=0.5)

ax_p.spines['left'].set_visible(True)
ax_p.spines['left'].set_color('#8a8a8a')
ax_p.spines['left'].set_linewidth(1.2)
ax_p.spines['bottom'].set_visible(True)
ax_p.spines['bottom'].set_color('#dcdcdc')
ax_p.tick_params(axis='y', length=0, pad=15, labelsize=TICK_FS, labelcolor='#666666')
for lbl in ax_p.get_yticklabels():
    lbl.set_verticalalignment('bottom')

ax_p.xaxis.set_major_locator(mdates.MonthLocator(bymonth=[1, 4, 7, 10]))
ax_p.xaxis.set_major_formatter(mdates.DateFormatter("%b '%y"))
ax_p.tick_params(axis='x', length=6, color='#e2e2e2', pad=7, labelsize=TICK_FS, labelcolor='#555555')
ax_p.set_xlim(to_num(-18.3), to_num(712.5))

# illiquid supply
ax_s.plot(to_num(supply_day), supply_m, color='#f7931a', lw=1.8)
ax_s.set_ylim(13.5, 15.6)
ax_s.yaxis.set_major_locator(FixedLocator(supply_ticks))
ax_s.yaxis.set_major_formatter(FixedFormatter(supply_tick_labels))
ax_s.spines['right'].set_visible(True)
ax_s.spines['right'].set_color('#f2e2c8')
ax_s.spines['right'].set_linewidth(1.2)
ax_s.tick_params(axis='y', length=0, pad=15, labelsize=TICK_FS, labelcolor='#666666')
for lbl in ax_s.get_yticklabels():
    lbl.set_verticalalignment('bottom')

# IS 14-day change and zero line
ax_i.plot(to_num(change_day), change_k, color='#f05454', lw=2.2, solid_joinstyle='round')
ax_i.axhline(0, color='#444444', lw=2.0, zorder=4)
ax_i.set_ylim(-150, 200)
ax_i.yaxis.set_major_locator(FixedLocator(change_ticks))
ax_i.yaxis.set_major_formatter(FixedFormatter(change_tick_labels))
ax_i.spines['right'].set_visible(True)
ax_i.spines['right'].set_position(('axes', 1.0593))
ax_i.spines['right'].set_color('#a8a8a8')
ax_i.spines['right'].set_linewidth(1.2)
ax_i.tick_params(axis='y', length=0, pad=14, labelsize=TICK_FS, labelcolor='#666666')
for lbl in ax_i.get_yticklabels():
    lbl.set_verticalalignment('bottom')

# legend
handles = [Line2D([], [], ls='', marker='o', ms=9.5, color=c) for c in legend_colors]
fig.legend(handles, legend_labels, loc='upper left', bbox_to_anchor=(0.0441, 0.8615), ncol=4,
           frameon=False, fontsize=12.8, handlelength=0.8, handletextpad=0.42, columnspacing=2.6,
           borderpad=0, borderaxespad=0, labelcolor='#333333')

# outer frame
fig.patches.append(Rectangle((0.0211, 0.0908), 0.9578, 0.7903, transform=fig.transFigure,
                             fill=False, edgecolor='#e2e2e2', lw=1.5))

# titles and footer
fig.text(0.0211, 1 - 67 / 1013, 'Bitcoin: IS Rate of change', fontsize=21.5, color='#333333', va='center')
banner = fig.text(0.0061, 1 - 58 / 1013, 'WebGiaCoin.com News', fontsize=37, color='#ee1c1c',
                  weight='bold',
                  family=['Liberation Sans Narrow', 'Roboto Condensed', 'Open Sans Condensed',
                          'DejaVu Sans Condensed', 'DejaVu Sans'],
                  fontstretch='condensed', va='center')
fig.text(0.0211, 1 - 969 / 1013, '\u00a9 2023 Glassnode. All Rights Reserved.', fontsize=14.4,
         color='#777777', va='center')
fig.text(0.9789, 1 - 971 / 1013, 'glassnode', fontsize=28.5, color='#111111', weight='medium',
         ha='right', va='center')

# keep the red banner at the reference width whichever face was found
fig.canvas.draw()
bw = banner.get_window_extent().width
if bw > 0:
    banner.set_fontsize(37 * 462.0 / bw)

fig.savefig('out.png', dpi=100, facecolor='white')
